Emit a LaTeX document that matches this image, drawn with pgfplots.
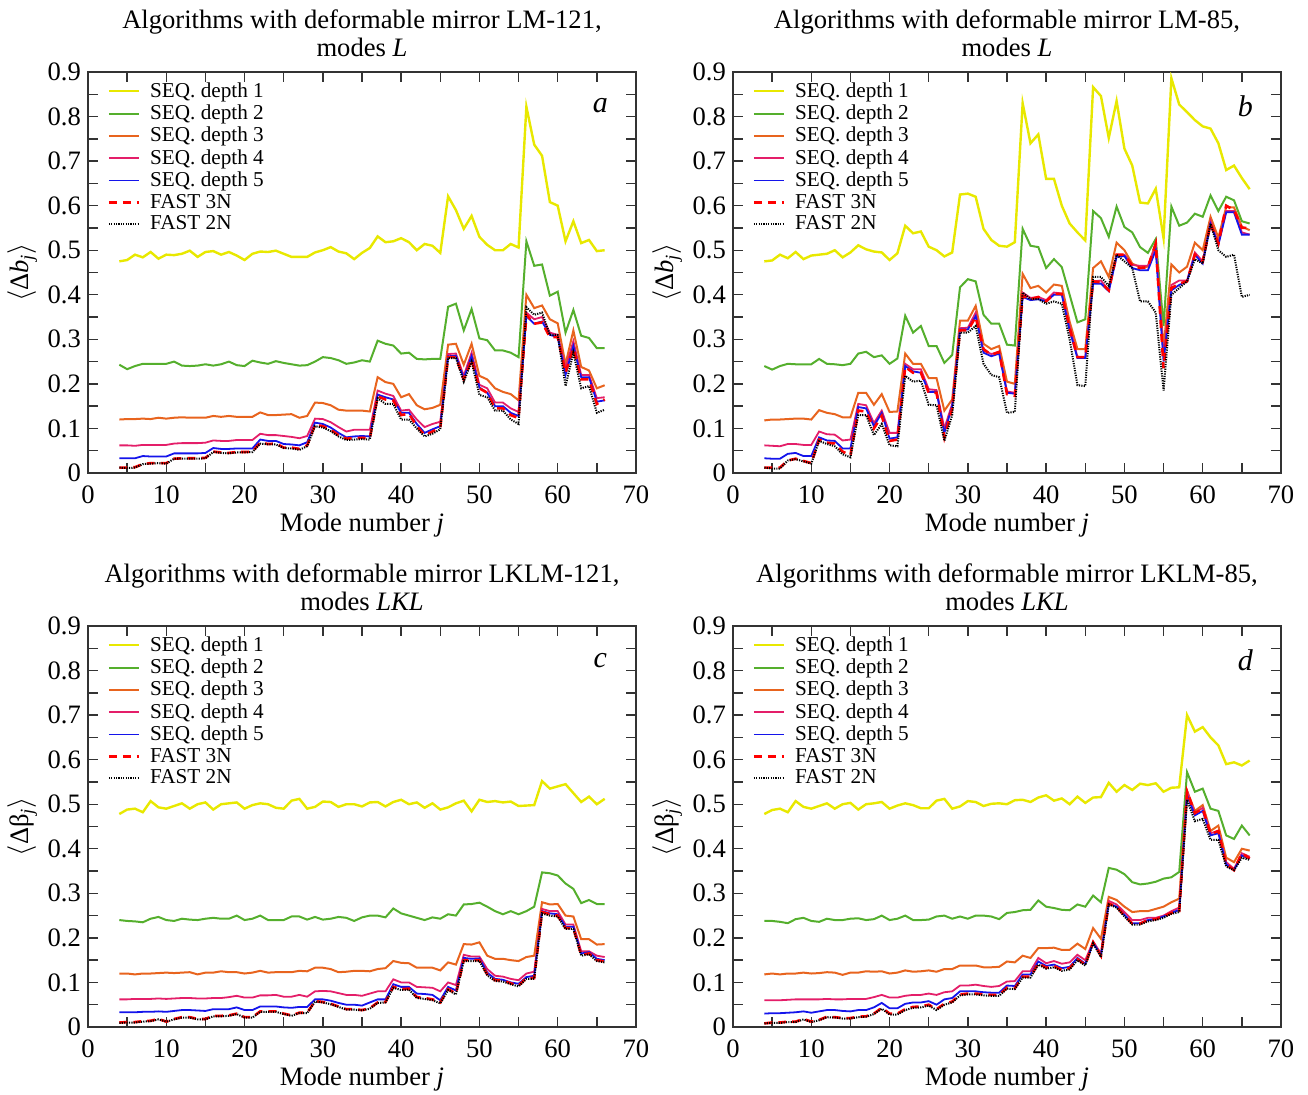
\documentclass[border=0pt]{standalone}
\usepackage{fontspec}
\setmainfont{Liberation Serif}
\usepackage{pgfplots}
\usepackage{pgfplotstable}
\pgfplotsset{compat=1.18}

\definecolor{cyel}{RGB}{232,232,0}
\definecolor{cgrn}{RGB}{85,175,45}
\definecolor{corg}{RGB}{232,100,30}
\definecolor{cpnk}{RGB}{228,30,105}
\definecolor{cblu}{RGB}{20,20,235}
\definecolor{cred}{RGB}{255,0,0}

% columns: j, SEQ depth 1..5, FAST 3N, FAST 2N
\pgfplotstableread{
j s1 s2 s3 s4 s5 f3 f2
4 0.475 0.243 0.120 0.062 0.033 0.012 0.012
5 0.478 0.233 0.121 0.062 0.033 0.012 0.011
6 0.490 0.240 0.121 0.061 0.033 0.013 0.012
7 0.484 0.245 0.122 0.063 0.038 0.020 0.020
8 0.496 0.245 0.121 0.063 0.037 0.022 0.021
9 0.481 0.245 0.124 0.063 0.037 0.022 0.022
10 0.490 0.245 0.122 0.063 0.037 0.022 0.021
11 0.489 0.250 0.124 0.066 0.044 0.032 0.032
12 0.492 0.241 0.125 0.067 0.044 0.033 0.032
13 0.499 0.240 0.124 0.067 0.044 0.033 0.032
14 0.485 0.241 0.124 0.067 0.044 0.033 0.032
15 0.496 0.244 0.124 0.068 0.045 0.034 0.033
16 0.498 0.241 0.128 0.073 0.056 0.048 0.047
17 0.490 0.244 0.126 0.072 0.054 0.046 0.045
18 0.496 0.250 0.128 0.072 0.054 0.045 0.044
19 0.488 0.242 0.126 0.074 0.055 0.047 0.046
20 0.478 0.240 0.126 0.074 0.055 0.047 0.046
21 0.492 0.252 0.126 0.074 0.055 0.048 0.047
22 0.497 0.248 0.136 0.088 0.075 0.068 0.066
23 0.496 0.245 0.130 0.085 0.072 0.065 0.064
24 0.499 0.251 0.130 0.085 0.072 0.066 0.064
25 0.492 0.247 0.131 0.083 0.065 0.057 0.056
26 0.485 0.244 0.132 0.081 0.064 0.057 0.055
27 0.485 0.241 0.124 0.078 0.062 0.054 0.052
28 0.485 0.242 0.128 0.083 0.069 0.062 0.060
29 0.495 0.250 0.158 0.122 0.113 0.108 0.105
30 0.500 0.260 0.157 0.121 0.110 0.105 0.102
31 0.507 0.258 0.152 0.114 0.102 0.097 0.094
32 0.497 0.253 0.142 0.103 0.090 0.085 0.082
33 0.493 0.245 0.140 0.093 0.080 0.077 0.074
34 0.480 0.248 0.140 0.097 0.082 0.078 0.075
35 0.494 0.253 0.140 0.097 0.083 0.079 0.076
36 0.505 0.250 0.138 0.097 0.082 0.078 0.075
37 0.531 0.297 0.215 0.185 0.176 0.172 0.168
38 0.518 0.290 0.204 0.178 0.170 0.165 0.155
39 0.520 0.286 0.200 0.173 0.165 0.163 0.155
40 0.527 0.268 0.170 0.140 0.135 0.130 0.120
41 0.518 0.270 0.177 0.142 0.135 0.133 0.120
42 0.500 0.256 0.152 0.120 0.110 0.105 0.100
43 0.514 0.255 0.143 0.103 0.090 0.085 0.082
44 0.510 0.256 0.146 0.110 0.098 0.093 0.088
45 0.494 0.256 0.153 0.115 0.105 0.102 0.098
46 0.621 0.373 0.288 0.267 0.262 0.260 0.258
47 0.590 0.380 0.290 0.268 0.263 0.260 0.258
48 0.548 0.320 0.243 0.218 0.212 0.210 0.205
49 0.577 0.368 0.290 0.270 0.262 0.255 0.250
50 0.530 0.302 0.218 0.198 0.192 0.190 0.175
51 0.512 0.298 0.210 0.190 0.180 0.180 0.170
52 0.500 0.275 0.190 0.158 0.150 0.145 0.140
53 0.500 0.275 0.182 0.158 0.150 0.145 0.140
54 0.514 0.270 0.177 0.145 0.135 0.130 0.120
55 0.506 0.260 0.163 0.137 0.128 0.123 0.110
56 0.822 0.520 0.400 0.360 0.352 0.355 0.372
57 0.737 0.465 0.370 0.345 0.335 0.335 0.355
58 0.712 0.468 0.376 0.350 0.340 0.338 0.360
59 0.608 0.398 0.345 0.315 0.310 0.305 0.310
60 0.600 0.407 0.336 0.310 0.305 0.305 0.310
61 0.520 0.315 0.244 0.235 0.220 0.225 0.195
62 0.565 0.366 0.320 0.296 0.285 0.280 0.270
63 0.516 0.308 0.238 0.220 0.215 0.210 0.190
64 0.523 0.303 0.230 0.220 0.215 0.210 0.195
65 0.498 0.280 0.190 0.168 0.160 0.155 0.135
66 0.500 0.280 0.197 0.170 0.163 0.165 0.142
}\tabA

\pgfplotstableread{
j s1 s2 s3 s4 s5 f3 f2
4 0.475 0.240 0.118 0.062 0.033 0.012 0.012
5 0.477 0.232 0.120 0.061 0.032 0.012 0.010
6 0.490 0.240 0.120 0.060 0.032 0.012 0.010
7 0.482 0.245 0.121 0.065 0.043 0.028 0.028
8 0.496 0.244 0.122 0.065 0.045 0.032 0.031
9 0.480 0.244 0.122 0.063 0.038 0.027 0.026
10 0.488 0.244 0.120 0.063 0.038 0.022 0.021
11 0.490 0.256 0.141 0.093 0.080 0.075 0.072
12 0.492 0.245 0.135 0.087 0.073 0.068 0.065
13 0.500 0.244 0.132 0.086 0.072 0.066 0.060
14 0.484 0.242 0.125 0.073 0.055 0.048 0.042
15 0.495 0.245 0.125 0.075 0.055 0.040 0.035
16 0.511 0.268 0.180 0.155 0.148 0.140 0.130
17 0.502 0.272 0.180 0.152 0.145 0.138 0.130
18 0.497 0.260 0.153 0.112 0.105 0.100 0.085
19 0.495 0.264 0.177 0.140 0.135 0.128 0.110
20 0.478 0.245 0.137 0.090 0.077 0.072 0.062
21 0.493 0.257 0.138 0.090 0.080 0.075 0.060
22 0.555 0.353 0.268 0.245 0.240 0.238 0.218
23 0.538 0.315 0.245 0.233 0.228 0.225 0.205
24 0.542 0.330 0.245 0.233 0.225 0.225 0.207
25 0.508 0.285 0.213 0.188 0.182 0.180 0.153
26 0.500 0.285 0.213 0.186 0.182 0.180 0.152
27 0.486 0.247 0.140 0.100 0.090 0.080 0.072
28 0.495 0.265 0.165 0.155 0.150 0.145 0.130
29 0.625 0.417 0.342 0.325 0.322 0.320 0.315
30 0.627 0.435 0.342 0.326 0.322 0.320 0.315
31 0.620 0.430 0.375 0.360 0.352 0.350 0.330
32 0.548 0.355 0.290 0.275 0.270 0.278 0.245
33 0.523 0.335 0.278 0.267 0.262 0.265 0.220
34 0.510 0.335 0.285 0.272 0.268 0.272 0.215
35 0.508 0.288 0.205 0.183 0.180 0.177 0.135
36 0.518 0.286 0.200 0.180 0.178 0.173 0.137
37 0.830 0.548 0.447 0.405 0.395 0.398 0.405
38 0.740 0.510 0.415 0.393 0.388 0.390 0.390
39 0.760 0.507 0.420 0.395 0.390 0.395 0.390
40 0.660 0.460 0.405 0.388 0.385 0.385 0.380
41 0.660 0.480 0.423 0.405 0.400 0.402 0.385
42 0.600 0.462 0.420 0.403 0.400 0.402 0.380
43 0.560 0.400 0.340 0.330 0.320 0.325 0.300
44 0.540 0.338 0.278 0.260 0.258 0.260 0.197
45 0.522 0.345 0.278 0.260 0.258 0.260 0.195
46 0.866 0.588 0.460 0.430 0.425 0.430 0.440
47 0.846 0.572 0.475 0.432 0.425 0.428 0.440
48 0.752 0.530 0.440 0.410 0.408 0.410 0.420
49 0.835 0.598 0.517 0.490 0.485 0.490 0.490
50 0.728 0.552 0.500 0.490 0.487 0.490 0.475
51 0.690 0.540 0.470 0.467 0.460 0.465 0.460
52 0.607 0.507 0.462 0.465 0.455 0.460 0.385
53 0.605 0.494 0.463 0.465 0.455 0.462 0.385
54 0.638 0.525 0.515 0.510 0.500 0.515 0.360
55 0.527 0.330 0.280 0.260 0.250 0.235 0.185
56 0.886 0.598 0.468 0.422 0.410 0.415 0.400
57 0.827 0.555 0.450 0.432 0.422 0.425 0.415
58 0.810 0.562 0.463 0.432 0.430 0.430 0.430
59 0.792 0.582 0.517 0.495 0.490 0.490 0.480
60 0.778 0.575 0.500 0.475 0.470 0.475 0.470
61 0.773 0.623 0.575 0.565 0.558 0.560 0.560
62 0.740 0.588 0.528 0.515 0.512 0.515 0.500
63 0.680 0.620 0.597 0.588 0.585 0.600 0.485
64 0.690 0.612 0.596 0.588 0.585 0.590 0.490
65 0.662 0.565 0.553 0.540 0.535 0.550 0.395
66 0.637 0.560 0.545 0.535 0.535 0.550 0.400
}\tabB

\pgfplotstableread{
j s1 s2 s3 s4 s5 f3 f2
4 0.478 0.240 0.120 0.062 0.033 0.010 0.009
5 0.488 0.238 0.120 0.062 0.033 0.011 0.010
6 0.490 0.237 0.118 0.063 0.033 0.011 0.010
7 0.482 0.235 0.120 0.063 0.034 0.013 0.012
8 0.507 0.243 0.120 0.063 0.034 0.014 0.013
9 0.493 0.247 0.121 0.064 0.035 0.018 0.017
10 0.490 0.240 0.122 0.063 0.034 0.012 0.012
11 0.496 0.238 0.121 0.064 0.036 0.018 0.017
12 0.502 0.243 0.122 0.065 0.038 0.022 0.021
13 0.490 0.241 0.123 0.065 0.038 0.022 0.021
14 0.500 0.240 0.118 0.064 0.037 0.018 0.017
15 0.504 0.243 0.122 0.064 0.036 0.018 0.017
16 0.488 0.245 0.122 0.065 0.040 0.025 0.024
17 0.500 0.243 0.125 0.065 0.040 0.025 0.024
18 0.502 0.243 0.123 0.067 0.040 0.026 0.025
19 0.504 0.250 0.123 0.070 0.044 0.030 0.029
20 0.490 0.240 0.120 0.066 0.038 0.022 0.021
21 0.498 0.243 0.122 0.066 0.038 0.022 0.021
22 0.502 0.250 0.126 0.071 0.046 0.035 0.034
23 0.500 0.240 0.122 0.071 0.046 0.035 0.034
24 0.492 0.240 0.123 0.072 0.046 0.035 0.034
25 0.490 0.240 0.123 0.068 0.044 0.030 0.029
26 0.508 0.248 0.123 0.068 0.043 0.026 0.025
27 0.512 0.248 0.126 0.072 0.045 0.032 0.031
28 0.490 0.241 0.125 0.068 0.045 0.032 0.031
29 0.494 0.247 0.133 0.080 0.062 0.058 0.057
30 0.506 0.241 0.133 0.081 0.062 0.056 0.055
31 0.505 0.243 0.130 0.080 0.059 0.052 0.051
32 0.494 0.247 0.123 0.076 0.054 0.046 0.045
33 0.500 0.245 0.124 0.072 0.050 0.040 0.039
34 0.500 0.238 0.126 0.072 0.050 0.040 0.039
35 0.495 0.246 0.126 0.070 0.048 0.038 0.037
36 0.504 0.250 0.125 0.075 0.055 0.042 0.041
37 0.505 0.250 0.130 0.080 0.062 0.055 0.054
38 0.495 0.246 0.132 0.080 0.062 0.056 0.055
39 0.505 0.266 0.148 0.107 0.096 0.090 0.088
40 0.510 0.255 0.144 0.100 0.090 0.085 0.083
41 0.500 0.250 0.143 0.100 0.090 0.086 0.084
42 0.504 0.245 0.133 0.090 0.075 0.067 0.065
43 0.492 0.240 0.133 0.089 0.074 0.065 0.063
44 0.502 0.246 0.133 0.088 0.072 0.062 0.060
45 0.488 0.243 0.127 0.080 0.060 0.055 0.053
46 0.493 0.253 0.145 0.100 0.090 0.085 0.083
47 0.502 0.250 0.140 0.094 0.082 0.075 0.073
48 0.508 0.275 0.186 0.162 0.155 0.150 0.148
49 0.484 0.276 0.185 0.158 0.153 0.150 0.148
50 0.510 0.279 0.190 0.158 0.154 0.150 0.148
51 0.505 0.270 0.160 0.130 0.122 0.118 0.116
52 0.507 0.260 0.153 0.115 0.108 0.105 0.103
53 0.504 0.253 0.153 0.113 0.106 0.104 0.102
54 0.506 0.260 0.150 0.108 0.100 0.098 0.096
55 0.496 0.253 0.148 0.105 0.097 0.093 0.091
56 0.497 0.260 0.157 0.120 0.112 0.110 0.108
57 0.498 0.270 0.160 0.124 0.115 0.110 0.108
58 0.552 0.347 0.280 0.265 0.260 0.258 0.255
59 0.535 0.345 0.275 0.260 0.255 0.253 0.250
60 0.540 0.340 0.276 0.260 0.253 0.250 0.248
61 0.545 0.322 0.250 0.230 0.225 0.222 0.220
62 0.525 0.310 0.248 0.230 0.225 0.222 0.220
63 0.505 0.278 0.197 0.170 0.165 0.162 0.160
64 0.517 0.285 0.197 0.170 0.168 0.165 0.163
65 0.500 0.276 0.185 0.160 0.153 0.150 0.148
66 0.512 0.276 0.186 0.157 0.150 0.147 0.145
}\tabC

\pgfplotstableread{
j s1 s2 s3 s4 s5 f3 f2
4 0.478 0.238 0.118 0.060 0.030 0.008 0.008
5 0.487 0.238 0.120 0.060 0.031 0.010 0.009
6 0.490 0.236 0.118 0.060 0.031 0.010 0.009
7 0.482 0.233 0.120 0.061 0.032 0.012 0.011
8 0.507 0.242 0.120 0.062 0.033 0.012 0.011
9 0.494 0.245 0.122 0.062 0.035 0.018 0.017
10 0.490 0.238 0.120 0.062 0.032 0.012 0.011
11 0.496 0.236 0.121 0.062 0.035 0.016 0.015
12 0.502 0.243 0.123 0.063 0.038 0.023 0.022
13 0.490 0.240 0.122 0.062 0.038 0.022 0.021
14 0.500 0.240 0.117 0.062 0.036 0.020 0.019
15 0.503 0.243 0.122 0.063 0.035 0.020 0.019
16 0.488 0.244 0.122 0.063 0.038 0.023 0.022
17 0.500 0.240 0.125 0.063 0.038 0.024 0.023
18 0.502 0.242 0.124 0.067 0.044 0.030 0.029
19 0.505 0.250 0.125 0.072 0.054 0.043 0.041
20 0.490 0.240 0.120 0.066 0.042 0.030 0.028
21 0.497 0.243 0.122 0.066 0.042 0.030 0.028
22 0.502 0.250 0.127 0.070 0.052 0.040 0.038
23 0.498 0.240 0.124 0.072 0.055 0.045 0.043
24 0.491 0.240 0.125 0.072 0.055 0.046 0.044
25 0.491 0.241 0.127 0.075 0.058 0.050 0.048
26 0.508 0.248 0.124 0.072 0.050 0.040 0.038
27 0.512 0.250 0.130 0.078 0.062 0.052 0.050
28 0.490 0.243 0.130 0.080 0.065 0.057 0.055
29 0.495 0.248 0.138 0.093 0.080 0.073 0.071
30 0.507 0.243 0.138 0.093 0.080 0.075 0.073
31 0.505 0.250 0.138 0.095 0.080 0.075 0.073
32 0.496 0.250 0.134 0.092 0.078 0.073 0.071
33 0.501 0.248 0.134 0.090 0.077 0.072 0.070
34 0.502 0.242 0.135 0.092 0.077 0.072 0.070
35 0.500 0.256 0.147 0.102 0.093 0.088 0.086
36 0.509 0.258 0.145 0.103 0.092 0.087 0.085
37 0.510 0.262 0.160 0.125 0.118 0.113 0.111
38 0.505 0.263 0.155 0.125 0.118 0.113 0.111
39 0.515 0.284 0.177 0.155 0.147 0.143 0.140
40 0.520 0.270 0.177 0.143 0.137 0.133 0.131
41 0.508 0.267 0.178 0.148 0.140 0.137 0.134
42 0.513 0.263 0.173 0.142 0.132 0.128 0.126
43 0.500 0.262 0.173 0.145 0.135 0.132 0.129
44 0.517 0.275 0.187 0.162 0.155 0.152 0.150
45 0.503 0.270 0.175 0.150 0.142 0.140 0.138
46 0.515 0.295 0.222 0.192 0.188 0.190 0.188
47 0.516 0.280 0.198 0.165 0.162 0.160 0.157
48 0.548 0.357 0.292 0.283 0.277 0.277 0.275
49 0.528 0.353 0.285 0.275 0.270 0.270 0.268
50 0.543 0.343 0.270 0.258 0.252 0.250 0.248
51 0.532 0.325 0.258 0.240 0.233 0.232 0.230
52 0.546 0.320 0.260 0.240 0.233 0.232 0.230
53 0.543 0.322 0.260 0.245 0.240 0.240 0.237
54 0.547 0.326 0.265 0.245 0.242 0.242 0.240
55 0.528 0.333 0.270 0.250 0.248 0.248 0.245
56 0.537 0.336 0.280 0.260 0.256 0.256 0.254
57 0.538 0.348 0.288 0.268 0.263 0.260 0.258
58 0.700 0.572 0.530 0.530 0.520 0.528 0.510
59 0.663 0.528 0.485 0.480 0.475 0.480 0.462
60 0.673 0.535 0.498 0.492 0.485 0.490 0.467
61 0.650 0.490 0.440 0.435 0.430 0.433 0.420
62 0.632 0.485 0.452 0.440 0.435 0.440 0.420
63 0.590 0.430 0.380 0.370 0.365 0.365 0.360
64 0.594 0.422 0.370 0.355 0.352 0.352 0.352
65 0.587 0.452 0.400 0.390 0.385 0.390 0.380
66 0.598 0.430 0.396 0.382 0.378 0.378 0.375
}\tabD

\newcommand{\fnt}{\fontsize{13.3}{14}\selectfont}

\pgfplotsset{
  panel/.style={
    scale only axis, width=274pt, height=200.5pt,
    xmin=0, xmax=70, ymin=0, ymax=0.9,
    xtick={0,10,...,70},
    ytick={0,0.1,0.2,0.3,0.4,0.5,0.6,0.7,0.8,0.9},
    minor x tick num=1, minor y tick num=1,
    major tick length=5pt, minor tick length=5pt,
    axis line style={black!80, line width=0.8pt},
    every tick/.style={black!80, line width=0.7pt},
    /pgf/number format/assume math mode=true,
    xticklabel={\rmfamily\pgfmathprintnumber[assume math mode=true]{\tick}},
    yticklabel={\rmfamily\pgfmathprintnumber[assume math mode=true]{\tick}},
    tick label style={font=\fnt},
    xticklabel style={yshift=-3pt},
    label style={font=\fnt},
    title style={font=\fnt, align=center, at={(0.5,1)}, anchor=south, inner sep=0pt, yshift=1.5pt},
    xlabel={Mode number \textit{j}},
    xlabel style={at={(axis description cs:0.5,-0.145)}, anchor=base},
    ylabel style={at={(axis description cs:-0.12,0.5)}, anchor=center},
    legend cell align=left,
    legend style={at={(axis description cs:0.035,0.98)}, anchor=north west,
      draw=none, fill=none, font=\fontsize{10.6}{11}\selectfont,
      row sep=0.3pt, column sep=4pt, inner sep=0pt, nodes={inner sep=1pt}},
    legend image code/.code={\draw[#1] (0pt,0pt) -- (15pt,0pt);},
  },
  sA/.style={cyel, line width=1.2pt},
  sB/.style={cgrn, line width=1pt},
  sC/.style={corg, line width=1pt},
  sD/.style={cpnk, line width=0.9pt},
  sE/.style={cblu, line width=0.9pt},
  sF/.style={cred, line width=1.3pt, dash pattern=on 4pt off 3pt},
  sG/.style={black, line width=1pt, dash pattern=on 0.6pt off 0.6pt},
}

\newcommand{\series}[1]{%
  \addplot[sA] table[x=j,y=s1]{#1};
  \addplot[sB] table[x=j,y=s2]{#1};
  \addplot[sC] table[x=j,y=s3]{#1};
  \addplot[sD] table[x=j,y=s4]{#1};
  \addplot[sE] table[x=j,y=s5]{#1};
  \addplot[sF] table[x=j,y=f3]{#1};
  \addplot[sG] table[x=j,y=f2]{#1};
  \legend{SEQ. depth 1,SEQ. depth 2,SEQ. depth 3,SEQ. depth 4,SEQ. depth 5,FAST 3N,FAST 2N}
}

\begin{document}
\begin{tikzpicture}
\useasboundingbox (0,0) rectangle (654pt,547.5pt);

\begin{axis}[panel, at={(44pt,311pt)},
  title={Algorithms with deformable mirror LM-121,\\modes \textit{L}},
  ylabel={$\langle$Δ\textit{b}\textsubscript{\textit{j}}$\rangle$}]
\series{\tabA}
\node[font=\fontsize{15}{15}\selectfont\itshape] at (rel axis cs:0.935,0.915) {a};
\end{axis}

\begin{axis}[panel, at={(366.5pt,311pt)},
  title={Algorithms with deformable mirror LM-85,\\modes \textit{L}},
  ylabel={$\langle$Δ\textit{b}\textsubscript{\textit{j}}$\rangle$}]
\series{\tabB}
\node[font=\fontsize{15}{15}\selectfont\itshape] at (rel axis cs:0.935,0.915) {b};
\end{axis}

\begin{axis}[panel, at={(44pt,34pt)},
  title={Algorithms with deformable mirror LKLM-121,\\modes \textit{LKL}},
  ylabel={$\langle$Δβ\textsubscript{\textit{j}}$\rangle$}]
\series{\tabC}
\node[font=\fontsize{15}{15}\selectfont\itshape] at (rel axis cs:0.935,0.915) {c};
\end{axis}

\begin{axis}[panel, at={(366.5pt,34pt)},
  title={Algorithms with deformable mirror LKLM-85,\\modes \textit{LKL}},
  ylabel={$\langle$Δβ\textsubscript{\textit{j}}$\rangle$}]
\series{\tabD}
\node[font=\fontsize{15}{15}\selectfont\itshape] at (rel axis cs:0.935,0.915) {d};
\end{axis}
\end{tikzpicture}
\end{document}
